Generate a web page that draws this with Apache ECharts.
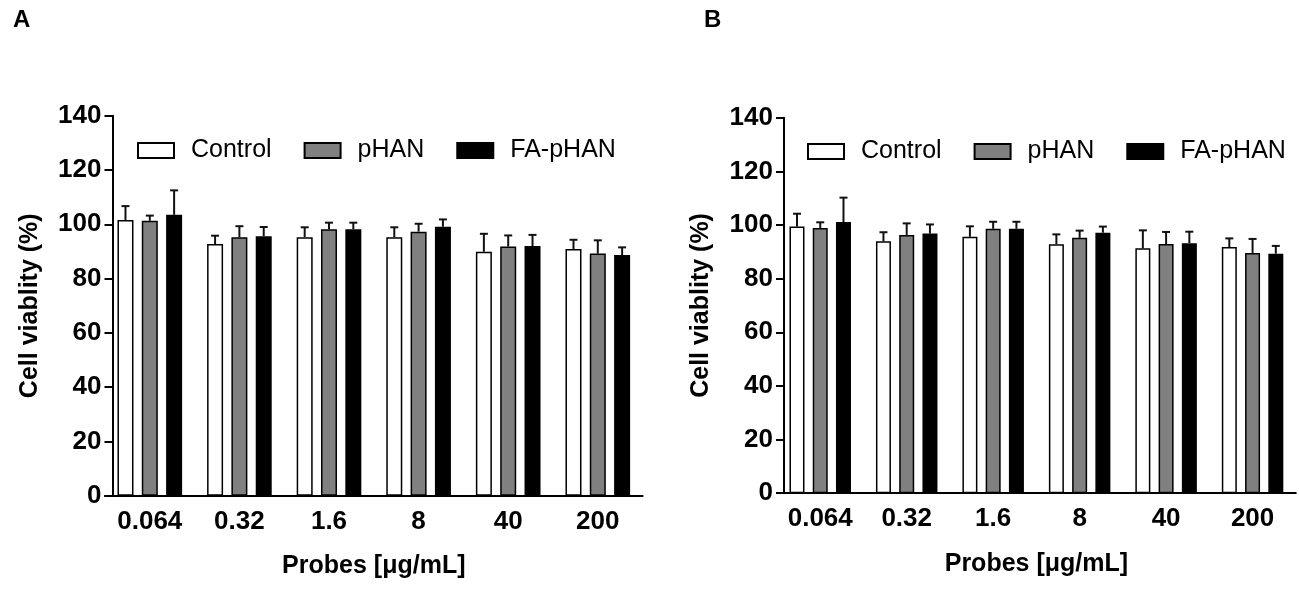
<!DOCTYPE html>
<html>
<head>
<meta charset="UTF-8">
<title>Cell viability</title>
<script src="https://cdn.jsdelivr.net/npm/echarts@6/dist/echarts.min.js"></script>
<style>
    html, body { margin: 0; padding: 0; background: #fff; }
    #chart { width: 1299px; height: 591px; }
</style>
</head>
<body>
<div id="chart"></div>
<script type="text/javascript">
    // 数据：浓度与各组均值 / 上误差
    var categories = ['0.064', '0.32', '1.6', '8', '40', '200'];
    var groupNames = ['Control', 'pHAN', 'FA-pHAN'];
    var yTicks = [0, 20, 40, 60, 80, 100, 120, 140];

    // panel A
    var controlA = [101.6, 92.7, 95.2, 95.2, 89.9, 90.9];
    var phanA = [101.3, 95.2, 98.2, 97.3, 91.8, 89.2];
    var faphanA = [103.5, 95.6, 98.2, 99.1, 92.0, 88.7];
    var controlErrA = [5.1, 3.1, 3.7, 3.7, 6.6, 3.4];
    var phanErrA = [1.9, 4.1, 2.4, 2.9, 4.1, 4.9];
    var faphanErrA = [9.0, 3.4, 2.4, 2.7, 4.1, 2.8];

    // panel B
    var controlB = [99.4, 93.9, 95.6, 92.8, 91.3, 91.8];
    var phanB = [98.9, 96.3, 98.6, 95.2, 92.9, 89.6];
    var faphanB = [101.1, 96.8, 98.6, 97.1, 93.2, 89.3];
    var controlErrB = [4.8, 3.4, 3.9, 3.7, 6.7, 3.2];
    var phanErrB = [2.1, 4.3, 2.6, 2.7, 4.5, 5.2];
    var faphanErrB = [9.1, 3.4, 2.6, 2.3, 4.3, 2.9];

    var colors = ['#ffffff', '#808080', '#000000'];
    var font = "'Liberation Sans', Arial, sans-serif";

    var chart = echarts.init(document.getElementById('chart'));

    function errData(means, errs) {
        var out = [];
        for (var i = 0; i < means.length; i++) {
            out.push([i, means[i], errs[i]]);
        }
        return out;
    }

    // 误差棒：只画上半部分 + 横帽
    function errRender(offset) {
        return function (params, api) {
            var m = api.value(1), e = api.value(2);
            var p0 = api.coord([api.value(0), m]);
            var p1 = api.coord([api.value(0), m + e]);
            var cx = p0[0] + offset;
            var st = { stroke: '#111', lineWidth: 2 };
            return {
                type: 'group',
                children: [
                    { type: 'line', shape: { x1: cx, y1: p0[1], x2: cx, y2: p1[1] }, style: st },
                    { type: 'line', shape: { x1: cx - 4, y1: p1[1], x2: cx + 4, y2: p1[1] }, style: st }
                ]
            };
        };
    }

    function xAxisFor(gi) {
        return {
            type: 'category',
            gridIndex: gi,
            data: categories,
            name: 'Probes [\u03bcg/mL]',
            nameLocation: 'middle',
            nameGap: 58,
            nameTextStyle: { fontFamily: font, fontWeight: 'bold', fontSize: 25, color: '#000' },
            axisLine: { lineStyle: { color: '#000', width: 2 } },
            axisTick: { alignWithLabel: true, length: 7, lineStyle: { color: '#000', width: 2 } },
            axisLabel: { margin: 13, fontFamily: font, fontWeight: 'bold', fontSize: 26, color: '#000' },
            splitLine: { show: false }
        };
    }

    function yAxisFor(gi, off) {
        return {
            type: 'value',
            gridIndex: gi,
            min: yTicks[0],
            max: yTicks[yTicks.length - 1],
            interval: 20,
            offset: off,
            name: 'Cell viablity (%)',
            nameLocation: 'middle',
            nameGap: 70,
            nameTextStyle: { fontFamily: font, fontWeight: 'bold', fontSize: 25, color: '#000' },
            axisLine: { show: true, lineStyle: { color: '#000', width: 2 } },
            axisTick: { show: true, length: 8, lineStyle: { color: '#000', width: 2 } },
            axisLabel: { margin: 11, fontFamily: font, fontWeight: 'bold', fontSize: 26, color: '#000' },
            splitLine: { show: false }
        };
    }

    function barSeries(name, data, gi, ci, bw, gap) {
        return {
            name: name,
            type: 'bar',
            xAxisIndex: gi,
            yAxisIndex: gi,
            data: data,
            barWidth: bw,
            barGap: gap,
            itemStyle: { color: colors[ci], borderColor: '#000', borderWidth: 1.5 },
            animation: false
        };
    }

    function errSeries(means, errs, gi, offset) {
        return {
            type: 'custom',
            xAxisIndex: gi,
            yAxisIndex: gi,
            renderItem: errRender(offset),
            data: errData(means, errs),
            z: 3,
            animation: false,
            silent: true
        };
    }

    function legendFor(left, top) {
        return {
            data: groupNames,
            left: left,
            top: top,
            orient: 'horizontal',
            icon: 'rect',
            itemWidth: 36,
            itemHeight: 15,
            itemGap: 32,
            selectedMode: false,
            textStyle: { fontFamily: font, fontSize: 25, color: '#000', padding: [0, 0, 0, 12] }
        };
    }

    // A: 16px 柱宽, B: 15px 柱宽
    var stepA = 16 * 1.52;
    var stepB = 15 * 1.55;

    var option = {
        animation: false,
        title: [
            { text: 'A', left: 8, top: 3, textStyle: { fontFamily: font, fontWeight: 'bold', fontSize: 24, color: '#000' } },
            { text: 'B', left: 699, top: 3, textStyle: { fontFamily: font, fontWeight: 'bold', fontSize: 24, color: '#000' } }
        ],
        legend: [legendFor(132, 133), legendFor(802, 134)],
        grid: [
            { left: 105, top: 115.7, width: 537.6, height: 380.1 },
            { left: 777, top: 117.7, width: 518.8, height: 375.5 }
        ],
        xAxis: [xAxisFor(0), xAxisFor(1)],
        yAxis: [yAxisFor(0, -7.5), yAxisFor(1, -7)],
        series: [
            barSeries('Control', controlA, 0, 0, 16, '52%'),
            barSeries('pHAN', phanA, 0, 1, 16, '52%'),
            barSeries('FA-pHAN', faphanA, 0, 2, 16, '52%'),
            errSeries(controlA, controlErrA, 0, -stepA),
            errSeries(phanA, phanErrA, 0, 0),
            errSeries(faphanA, faphanErrA, 0, stepA),
            barSeries('Control', controlB, 1, 0, 15, '55%'),
            barSeries('pHAN', phanB, 1, 1, 15, '55%'),
            barSeries('FA-pHAN', faphanB, 1, 2, 15, '55%'),
            errSeries(controlB, controlErrB, 1, -stepB),
            errSeries(phanB, phanErrB, 1, 0),
            errSeries(faphanB, faphanErrB, 1, stepB)
        ]
    };

    chart.setOption(option);
</script>
</body>
</html>
